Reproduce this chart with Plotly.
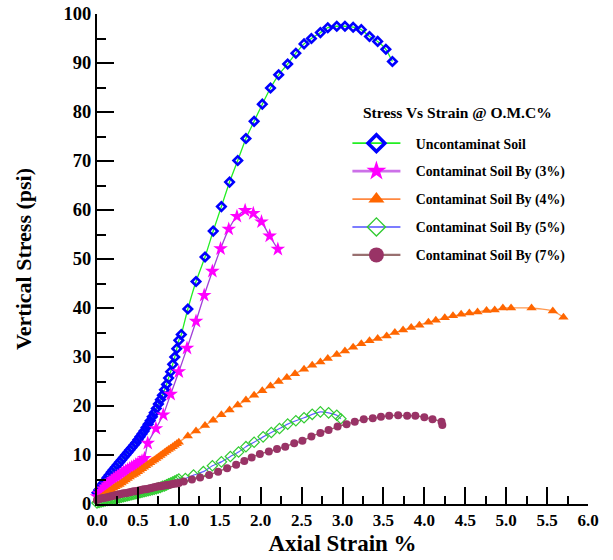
import plotly.graph_objects as go

# Dense strain readings (0 - 1.0 %)
strain_dense = [0.000, 0.025, 0.050, 0.075, 0.100, 0.125, 0.150, 0.175, 0.200, 0.225,
                0.250, 0.275, 0.300, 0.325, 0.350, 0.375, 0.400, 0.425, 0.450, 0.475,
                0.500, 0.525, 0.550, 0.575, 0.600, 0.625, 0.650, 0.675, 0.700, 0.725,
                0.750, 0.775, 0.800, 0.825, 0.850, 0.875, 0.900, 0.925, 0.950, 0.975, 1.000]

# Uncontaminated soil
unc_dense_y = [2.3, 2.9, 3.6, 4.2, 4.8, 5.4, 5.9, 6.5, 7.0, 7.5, 8.0, 8.5, 9.0, 9.5, 10.0,
               10.5, 11.0, 11.5, 12.0, 12.5, 13.1, 13.7, 14.3, 14.9, 15.6, 16.3, 17.0, 17.8,
               18.6, 19.5, 20.4, 21.3, 22.2, 23.3, 24.4, 25.7, 27.0, 28.5, 30.0, 31.7, 33.4]
unc_x = [1.03, 1.11, 1.21, 1.32, 1.42, 1.52, 1.62, 1.72, 1.82, 1.92, 2.02, 2.12, 2.22, 2.33,
         2.43, 2.53, 2.62, 2.73, 2.82, 2.93, 3.03, 3.13, 3.23, 3.33, 3.43, 3.53, 3.61]
unc_y = [34.6, 39.8, 45.4, 50.4, 55.7, 60.7, 65.7, 70.1, 74.6, 78.1, 81.6, 84.9, 87.6, 89.8,
         92.0, 93.9, 95.0, 96.2, 97.2, 97.5, 97.5, 97.3, 96.8, 95.4, 94.4, 92.8, 90.3]

# Contaminated 3%
c3_dense_y = [1.5, 2.1, 2.6, 3.1, 3.5, 3.9, 4.3, 4.7, 5.0, 5.3, 5.6, 5.9, 6.2, 6.5, 6.7,
              7.0, 7.2, 7.5, 7.7, 8.0, 8.2, 8.5, 8.8]
c3_x = [0.58, 0.62, 0.72, 0.81, 0.90, 1.00, 1.10, 1.21, 1.31, 1.41, 1.51, 1.61, 1.71, 1.81,
        1.91, 2.01, 2.11, 2.21]
c3_y = [9.3, 12.4, 15.4, 18.2, 22.4, 27.0, 31.8, 37.3, 42.6, 47.5, 52.1, 56.1, 58.7, 59.9,
        59.3, 57.6, 54.7, 52.0]

# Contaminated 4%
c4_dense_y = [0.8, 1.1, 1.4, 1.7, 2.0, 2.3, 2.6, 2.9, 3.2, 3.5, 3.8, 4.0, 4.3, 4.6, 4.9,
              5.2, 5.5, 5.8, 6.0, 6.3, 6.6, 6.9, 7.2, 7.5, 7.8, 8.1, 8.4, 8.7, 9.0, 9.3,
              9.6, 9.9, 10.2, 10.5, 10.8, 11.1, 11.4, 11.7, 12.0, 12.3, 12.6]
c4_x = [1.11, 1.21, 1.32, 1.42, 1.52, 1.62, 1.72, 1.82, 1.92, 2.02, 2.12, 2.22, 2.32, 2.42,
        2.53, 2.63, 2.73, 2.82, 2.93, 3.03, 3.13, 3.23, 3.33, 3.43, 3.54, 3.64, 3.74, 3.84,
        3.94, 4.05, 4.14, 4.25, 4.35, 4.45, 4.55, 4.65, 4.76, 4.86, 4.96, 5.06, 5.31, 5.57, 5.70]
c4_y = [13.9, 14.9, 16.0, 17.1, 18.2, 19.2, 20.2, 21.2, 22.2, 23.1, 24.1, 25.0, 25.8, 26.6,
        27.5, 28.3, 29.0, 29.7, 30.5, 31.2, 32.0, 32.7, 33.3, 33.8, 34.3, 35.0, 35.5, 36.0,
        36.5, 37.1, 37.5, 38.0, 38.4, 38.7, 39.0, 39.2, 39.5, 39.6, 40.0, 40.0, 40.0, 39.4, 38.1]

# Contaminated 5%
c5_dense_y = [0.2, 0.3, 0.4, 0.5, 0.6, 0.7, 0.8, 0.9, 1.0, 1.1, 1.2, 1.3, 1.4, 1.5, 1.6,
              1.7, 1.8, 1.9, 2.0, 2.1, 2.2, 2.3, 2.4, 2.5, 2.6, 2.7, 2.8, 2.9, 3.0, 3.1,
              3.3, 3.4, 3.6, 3.7, 3.9, 4.1, 4.3, 4.5, 4.7, 4.9, 5.1]
c5_x = [1.08, 1.18, 1.30, 1.41, 1.52, 1.63, 1.73, 1.82, 1.92, 2.03, 2.13, 2.23, 2.33, 2.43,
        2.53, 2.63, 2.73, 2.83, 2.93, 2.98]
c5_y = [5.2, 5.9, 6.6, 7.8, 8.6, 9.7, 10.6, 11.7, 12.6, 13.7, 14.6, 15.4, 16.3, 17.0,
        17.6, 18.3, 18.8, 18.6, 18.1, 17.4]

# Contaminated 7%
c7_dense_y = [0.8, 1.0, 1.1, 1.2, 1.3, 1.4, 1.5, 1.6, 1.7, 1.8, 1.9, 2.0, 2.1, 2.2, 2.2,
              2.3, 2.4, 2.5, 2.6, 2.6, 2.7, 2.8, 2.9, 3.0, 3.0, 3.1, 3.2, 3.3, 3.4, 3.5,
              3.6, 3.6, 3.7, 3.8, 3.9, 3.9, 4.0, 4.1, 4.2, 4.2, 4.3]
c7_x = [1.06, 1.16, 1.26, 1.37, 1.48, 1.59, 1.70, 1.80, 1.89, 1.99, 2.10, 2.20, 2.30, 2.41,
        2.51, 2.62, 2.73, 2.83, 2.94, 3.05, 3.15, 3.26, 3.37, 3.47, 3.57, 3.68, 3.79, 3.89,
        4.00, 4.10, 4.21, 4.22]
c7_y = [4.6, 5.0, 5.4, 5.9, 6.6, 7.3, 8.0, 8.8, 9.5, 10.2, 10.7, 11.2, 11.7, 12.4, 12.9,
        13.8, 14.5, 15.1, 15.8, 16.3, 16.8, 17.3, 17.5, 17.8, 18.0, 18.1, 18.0, 18.0, 17.7,
        17.3, 16.8, 16.1]

names = ["Uncontaminat Soil", "Contaminat Soil By (3%)", "Contaminat Soil By (4%)",
         "Contaminat Soil By (5%)", "Contaminat Soil By (7%)"]
legend_title = "Stress Vs Strain @ O.M.C%"
x_ticks = [0.0, 0.5, 1.0, 1.5, 2.0, 2.5, 3.0, 3.5, 4.0, 4.5, 5.0, 5.5, 6.0]
x_tick_labels = ["0.0", "0.5", "1.0", "1.5", "2.0", "2.5", "3.0", "3.5", "4.0", "4.5", "5.0", "5.5", "6.0"]
y_ticks = [0, 10, 20, 30, 40, 50, 60, 70, 80, 90, 100]

FONT = "Liberation Serif, Times New Roman, serif"

series = [
    (strain_dense + unc_x, unc_dense_y + unc_y,
     dict(symbol="diamond-open", size=6.5, color="#0000ff", line=dict(width=2.6, color="#0000ff")),
     dict(color="#22ee22", width=1.3),
     dict(symbol="diamond-open", size=13, color="#0000ff", line=dict(width=3.5, color="#0000ff")),
     dict(color="#22ee22", width=1.6)),
    (strain_dense[:len(c3_dense_y)] + c3_x, c3_dense_y + c3_y,
     dict(symbol="star", size=11, color="#ff00ff", line=dict(width=0)),
     dict(color="#a040d8", width=1.3),
     dict(symbol="star", size=15, color="#ff00ff", line=dict(width=0)),
     dict(color="#cc70e8", width=2.6)),
    (strain_dense + c4_x, c4_dense_y + c4_y,
     dict(symbol="triangle-up", size=9, color="#ff6600", line=dict(width=0)),
     dict(color="#ff9950", width=1.3),
     dict(symbol="triangle-up", size=14, color="#ff6600", line=dict(width=0)),
     dict(color="#ff8840", width=1.8)),
    (strain_dense + c5_x, c5_dense_y + c5_y,
     dict(symbol="diamond-open", size=8, color="#33cc33", line=dict(width=1.2, color="#33cc33")),
     dict(color="#6060ff", width=1.2),
     dict(symbol="diamond-open", size=14, color="#33cc33", line=dict(width=1.4, color="#33cc33")),
     dict(color="#5050ff", width=1.4)),
    (strain_dense + c7_x, c7_dense_y + c7_y,
     dict(symbol="circle", size=8, color="#993366", line=dict(width=0)),
     dict(color="#996666", width=1.4),
     dict(symbol="circle", size=15, color="#993366", line=dict(width=0)),
     dict(color="#997070", width=2.4)),
]

fig = go.Figure()
for i, (xs, ys, mk, ln, lmk, lln) in enumerate(series):
    fig.add_trace(go.Scatter(
        x=xs, y=ys, name=names[i], mode="lines+markers",
        marker=mk, line=dict(shape="spline", smoothing=0.5, **ln),
        legendgroup=f"g{i}", showlegend=False, cliponaxis=False,
    ))
for i, (xs, ys, mk, ln, lmk, lln) in enumerate(series):
    # legend-only entry (no data points), styled like the reference key
    fig.add_trace(go.Scatter(
        x=[None], y=[None], name="\u00a0\u00a0\u00a0" + names[i], mode="lines+markers",
        marker=lmk, line=lln, legendgroup=f"g{i}", legendrank=i + 1, showlegend=True,
    ))

axis_common = dict(
    showline=True, linewidth=2, linecolor="black", showgrid=False, zeroline=False,
    ticks="inside", tickwidth=2, tickcolor="black", ticklen=17, automargin=False,
)
fig.update_layout(
    width=613, height=560,
    margin=dict(l=97, r=25, t=14, b=56),
    paper_bgcolor="white", plot_bgcolor="white",
    showlegend=True,
    legend=dict(
        x=0.51, y=0.768, xanchor="left", yanchor="top",
        bgcolor="rgba(0,0,0,0)", traceorder="grouped", tracegroupgap=7,
        itemwidth=48,
        font=dict(family=FONT, size=13.8, color="black", weight="bold"),
    ),
    annotations=[dict(
        text=legend_title, xref="paper", yref="paper", x=0.538, y=0.799,
        xanchor="left", yanchor="middle", showarrow=False,
        font=dict(family=FONT, size=15.5, color="black", weight="bold"),
    )],
    xaxis=dict(
        range=[0, 6], tickvals=x_ticks, ticktext=x_tick_labels,
        minor=dict(ticks="inside", ticklen=8, tickwidth=2, tickcolor="black", dtick=0.25),
        tickfont=dict(family=FONT, size=17, color="black", weight="bold"),
        title=dict(text="Axial Strain %", standoff=5,
                   font=dict(family=FONT, size=23, color="black", weight="bold")),
        **axis_common,
    ),
    yaxis=dict(
        range=[0, 100], tickvals=y_ticks,
        minor=dict(ticks="inside", ticklen=9, tickwidth=2, tickcolor="black", dtick=5),
        tickfont=dict(family=FONT, size=18.5, color="black", weight="bold"),
        title=dict(text="Vertical Stress (psi)", standoff=26,
                   font=dict(family=FONT, size=22, color="black", weight="bold")),
        **axis_common,
    ),
)

fig.write_html("out.html")
